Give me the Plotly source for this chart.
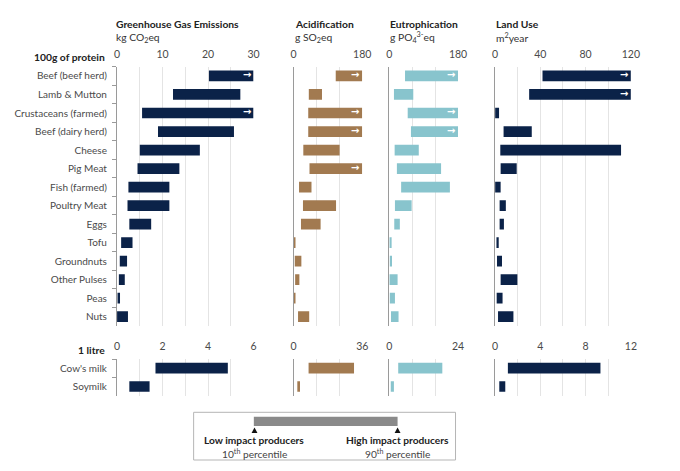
import plotly.graph_objects as go

# the page body adds an 8px margin, so the figure is drawn 16px narrower / shorter
W, H = 664, 455
OFF = 8

# ── data: 10th / 90th percentile per 100g of protein ──────────────────────────
FOODS = [
    "Beef (beef herd)", "Lamb & Mutton", "Crustaceans (farmed)", "Beef (dairy herd)",
    "Cheese", "Pig Meat", "Fish (farmed)", "Poultry Meat", "Eggs", "Tofu",
    "Groundnuts", "Other Pulses", "Peas", "Nuts",
]
# high values at the axis end carry an arrow (they run past the axis)
GHG_LOW  = [20.2, 12.3, 5.5, 9.0, 5.0, 4.5, 2.5, 2.3, 2.7, 0.9, 0.6, 0.4, 0.1, 0.0]
GHG_HIGH = [30, 27.1, 30, 25.7, 18.2, 13.7, 11.5, 11.5, 7.5, 3.4, 2.2, 1.7, 0.65, 2.4]
GHG_OVER = [True, False, True, False, False, False, False, False, False, False, False, False, False, False]

ACID_LOW  = [110.6, 40.1, 38.6, 38.6, 25.7, 41.9, 14.5, 24.8, 19.6, 0.5, 3.3, 4.3, 0.5, 11.9]
ACID_HIGH = [180, 74.6, 180, 180, 120.8, 180, 47.1, 111.4, 71.0, 4.0, 20.6, 15.4, 3.0, 41.1]
ACID_OVER = [True, False, True, True, False, True, False, False, False, False, False, False, False, False]

EUTR_LOW  = [41.1, 12.1, 48.1, 56.6, 13.9, 19.8, 30.9, 14.7, 12.9, 1.0, 1.0, 0.0, 1.0, 4.4]
EUTR_HIGH = [180, 62.7, 180, 180, 77.1, 135.5, 158.6, 58.4, 27.5, 6.0, 7.0, 21.6, 14.7, 24.1]
EUTR_OVER = [True, False, True, True, False, False, False, False, False, False, False, False, False, False]

LAND_LOW  = [41.9, 30.1, 0.0, 7.5, 4.6, 4.9, 0.0, 4.0, 4.0, 1.2, 1.7, 4.9, 1.4, 2.6]
LAND_HIGH = [120, 120, 3.5, 32.4, 111.3, 19.1, 4.9, 9.5, 7.8, 3.2, 6.1, 19.7, 6.6, 16.2]
LAND_OVER = [True, True, False, False, False, False, False, False, False, False, False, False, False, False]

# ── data: per litre of milk ──────────────────────────────────────────────────
MILKS = ["Cow's milk", "Soymilk"]
MILK_GHG_LOW,  MILK_GHG_HIGH  = [1.69, 0.54], [4.87, 1.43]
MILK_ACID_LOW, MILK_ACID_HIGH = [7.9, 2.0], [31.7, 3.4]
MILK_EUTR_LOW, MILK_EUTR_HIGH = [3.1, 0.5], [18.5, 1.6]
MILK_LAND_LOW, MILK_LAND_HIGH = [1.13, 0.37], [9.31, 0.9]

NAVY, BROWN, TEAL = "#0b2248", "#a27a50", "#88c4cd"
GRID, AXIS, TXT = "#e4e4e4", "#9a9a9a", "#4a4a4a"
FONT = "Lato, Open Sans, sans-serif"


def px(x):
    return (x - OFF) / W


def py(y):
    return 1 - (y - OFF) / H


# panel x extents (pixels of the reference) and per-row axis settings
PANELS = [
    dict(x=(116, 255), color=NAVY,
         top=dict(rng=30, vals=[0, 10, 20, 30], minor=[5, 15, 25]),
         bot=dict(rng=6, vals=[0, 2, 4, 6], minor=[1, 3, 5]),
         data=(GHG_LOW, GHG_HIGH, GHG_OVER), milk=(MILK_GHG_LOW, MILK_GHG_HIGH),
         title="Greenhouse Gas Emissions", unit="kg CO<sub>2</sub>eq"),
    dict(x=(295.7, 365.7), color=BROWN,
         top=dict(rng=180, vals=[0, 180], minor=[60, 120]),
         bot=dict(rng=36, vals=[0, 36], minor=[12, 24]),
         data=(ACID_LOW, ACID_HIGH, ACID_OVER), milk=(MILK_ACID_LOW, MILK_ACID_HIGH),
         title="Acidification", unit="g SO<sub>2</sub>eq"),
    dict(x=(393.3, 463.3), color=TEAL,
         top=dict(rng=180, vals=[0, 180], minor=[60, 120]),
         bot=dict(rng=24, vals=[0, 24], minor=[8, 16]),
         data=(EUTR_LOW, EUTR_HIGH, EUTR_OVER), milk=(MILK_EUTR_LOW, MILK_EUTR_HIGH),
         title="Eutrophication", unit="g PO<sub>4</sub><sup>3-</sup>eq"),
    dict(x=(501, 639.3), color=NAVY,
         top=dict(rng=120, vals=[0, 40, 80, 120], minor=[20, 60, 100]),
         bot=dict(rng=12, vals=[0, 4, 8, 12], minor=[2, 6, 10]),
         data=(LAND_LOW, LAND_HIGH, LAND_OVER), milk=(MILK_LAND_LOW, MILK_LAND_HIGH),
         title="Land Use", unit="m<sup>2</sup>year"),
]

TOP_Y = (326, 66.7)
BOT_Y = (395.7, 359)

fig = go.Figure()
layout = {}
annotations = []
shapes = []

for i, p in enumerate(PANELS):
    for r, (rowkey, cats, yext) in enumerate([("top", FOODS, TOP_Y), ("bot", MILKS, BOT_Y)]):
        n = i * 2 + r + 1
        xa = "x" if n == 1 else f"x{n}"
        ya = "y" if n == 1 else f"y{n}"
        if rowkey == "top":
            low, high, over = p["data"]
        else:
            low, high = p["milk"]
            over = [False] * len(low)

        fig.add_trace(go.Bar(
            y=cats, x=[h - l for l, h in zip(low, high)], base=low,
            orientation="h", marker=dict(color=p["color"], line=dict(width=0)),
            width=0.58, xaxis=xa, yaxis=ya, showlegend=False,
            hovertemplate="%{y}: %{base} – %{x}<extra></extra>",
        ))

        ax = p[rowkey]
        layout["xaxis" if n == 1 else f"xaxis{n}"] = dict(
            domain=[px(p["x"][0]), px(p["x"][1])], anchor=ya, side="top",
            range=[0, ax["rng"]], tickmode="array", tickvals=ax["vals"],
            showgrid=True, gridcolor=GRID, gridwidth=1, zeroline=False,
            minor=dict(tickmode="array", tickvals=ax["minor"], showgrid=True,
                       gridcolor=GRID, gridwidth=1, ticks=""),
            showline=False, ticks="", ticklabelstandoff=6,
            tickfont=dict(size=10.5, color=TXT, family=FONT), fixedrange=True,
        )
        ylay = dict(
            domain=[py(yext[0]), py(yext[1])], anchor=xa,
            type="category", categoryorder="array", categoryarray=cats,
            range=[len(cats) - 0.5, -0.5], showgrid=False, zeroline=False,
            showline=True, linecolor=AXIS, linewidth=1.2, fixedrange=True,
        )
        if i == 0:
            ylay.update(ticks="outside", tickson="boundaries", ticklen=4, tickcolor=AXIS,
                        showticklabels=True, ticklabelstandoff=7,
                        tickfont=dict(size=10, color=TXT, family=FONT))
        else:
            ylay.update(ticks="", showticklabels=False)
        layout["yaxis" if n == 1 else f"yaxis{n}"] = ylay

        # white arrows on bars that run past the axis end
        for c, o in zip(cats, over):
            if o:
                annotations.append(dict(
                    x=ax["rng"], y=c, xref=xa, yref=ya, xanchor="right", yanchor="middle",
                    xshift=-1, yshift=1, showarrow=False, text="<b>→</b>",
                    font=dict(size=10, color="white", family="DejaVu Sans"),
                ))

    # panel titles
    annotations.append(dict(
        x=px(p["x"][0] - (3 if i == 0 else 1)), y=py(24), xref="paper", yref="paper",
        xanchor="left", yanchor="middle", showarrow=False,
        text=f"<b>{p['title']}</b>", font=dict(size=10.3, color="#222", family=FONT),
    ))
    annotations.append(dict(
        x=px(p["x"][0] - (3 if i == 0 else 1)), y=py(38), xref="paper", yref="paper",
        xanchor="left", yanchor="middle", showarrow=False,
        text=p["unit"], font=dict(size=10.3, color="#333", family=FONT),
    ))

for txt, yy in [("100g of protein", 57), ("1 litre", 350)]:
    annotations.append(dict(
        x=px(106), y=py(yy), xref="paper", yref="paper", xanchor="right", yanchor="middle",
        showarrow=False, text=f"<b>{txt}</b>", font=dict(size=10.3, color="#222", family=FONT),
    ))

# key box at the bottom
shapes.append(dict(type="rect", xref="paper", yref="paper",
                   x0=px(194), x1=px(460.7), y0=py(460), y1=py(412.3),
                   line=dict(color="#b5b5b5", width=1), fillcolor="white"))
shapes.append(dict(type="rect", xref="paper", yref="paper",
                   x0=px(255.3), x1=px(401.7), y0=py(426), y1=py(416.7),
                   line=dict(width=0), fillcolor="#8a8a8a"))
for tx in (256, 401.7):
    shapes.append(dict(type="path", xref="paper", yref="paper",
                       path=f"M {px(tx - 3)},{py(433)} L {px(tx + 3)},{py(433)} L {px(tx)},{py(427.5)} Z",
                       fillcolor="#111", line=dict(width=0)))
for tx, head, sub in [(255.5, "Low impact producers", "10<sup>th</sup> percentile"),
                      (402, "High impact producers", "90<sup>th</sup> percentile")]:
    annotations.append(dict(x=px(tx), y=py(440), xref="paper", yref="paper",
                            xanchor="center", yanchor="middle", showarrow=False,
                            text=f"<b>{head}</b>", font=dict(size=10.2, color="#222", family=FONT)))
    annotations.append(dict(x=px(tx), y=py(453), xref="paper", yref="paper",
                            xanchor="center", yanchor="middle", showarrow=False,
                            text=sub, font=dict(size=10.2, color="#444", family=FONT)))

fig.update_layout(
    **layout,
    width=W, height=H,
    margin=dict(l=0, r=0, t=0, b=0),
    plot_bgcolor="white", paper_bgcolor="white",
    font=dict(family=FONT, size=10.5, color=TXT),
    annotations=annotations,
    shapes=shapes,
)

fig.write_html("out.html")
